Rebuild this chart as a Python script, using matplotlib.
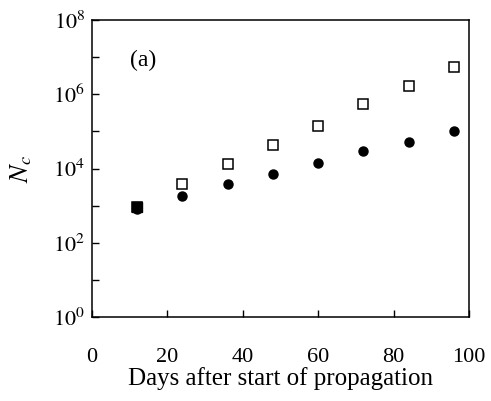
import matplotlib
matplotlib.use("Agg")
import matplotlib.pyplot as plt
from matplotlib.ticker import FixedLocator, FixedFormatter

# data
days = [12, 24, 36, 48, 60, 72, 84, 96]
nc_open = [9.0e2, 3.8e3, 1.3e4, 4.3e4, 1.4e5, 5.4e5, 1.7e6, 5.6e6]
nc_filled = [8.0e2, 1.86e3, 3.8e3, 7.0e3, 1.44e4, 2.9e4, 5.1e4, 1.05e5]

x_ticks = [0, 20, 40, 60, 80, 100]
y_ticks = [10.0 ** k for k in range(0, 9)]
y_labels = [r"$10^{%d}$" % k if k % 2 == 0 else "" for k in range(0, 9)]

plt.rcParams["font.family"] = ["Liberation Serif", "DejaVu Serif"]
plt.rcParams["mathtext.fontset"] = "stix"

fig = plt.figure(figsize=(4.91, 4.01), dpi=100)
ax = fig.add_axes([0.1874, 0.2095, 0.7676, 0.7405])

ax.plot(days, nc_open, linestyle="none", marker="s", markersize=6.5,
        markerfacecolor="white", markeredgecolor="black", markeredgewidth=1.1)
ax.plot(days, nc_filled, linestyle="none", marker="o", markersize=6.5,
        markerfacecolor="black", markeredgecolor="black")
# the first point shows as a filled square (both markers overlap)
ax.plot(days[:1], nc_open[:1], linestyle="none", marker="s", markersize=6.5,
        color="black")

ax.set_yscale("log")
ax.set_xlim(0, 100)
ax.set_ylim(1, 1e8)
ax.yaxis.set_major_locator(FixedLocator(y_ticks))
ax.yaxis.set_major_formatter(FixedFormatter(y_labels))
ax.yaxis.set_minor_locator(FixedLocator([]))
ax.set_xticks(x_ticks)

ax.tick_params(direction="in", length=5, width=1, labelsize=16,
               top=False, right=False, pad=5)
ax.tick_params(axis="x", pad=22)
for s in ax.spines.values():
    s.set_linewidth(1.1)

ax.set_xlabel("Days after start of propagation", fontsize=18, labelpad=0.5)
ax.set_ylabel(r"$N_c$", fontsize=19, labelpad=14)
ax.text(0.1, 0.865, "(a)", transform=ax.transAxes, fontsize=17, va="center")

fig.savefig("out.png", dpi=100)
